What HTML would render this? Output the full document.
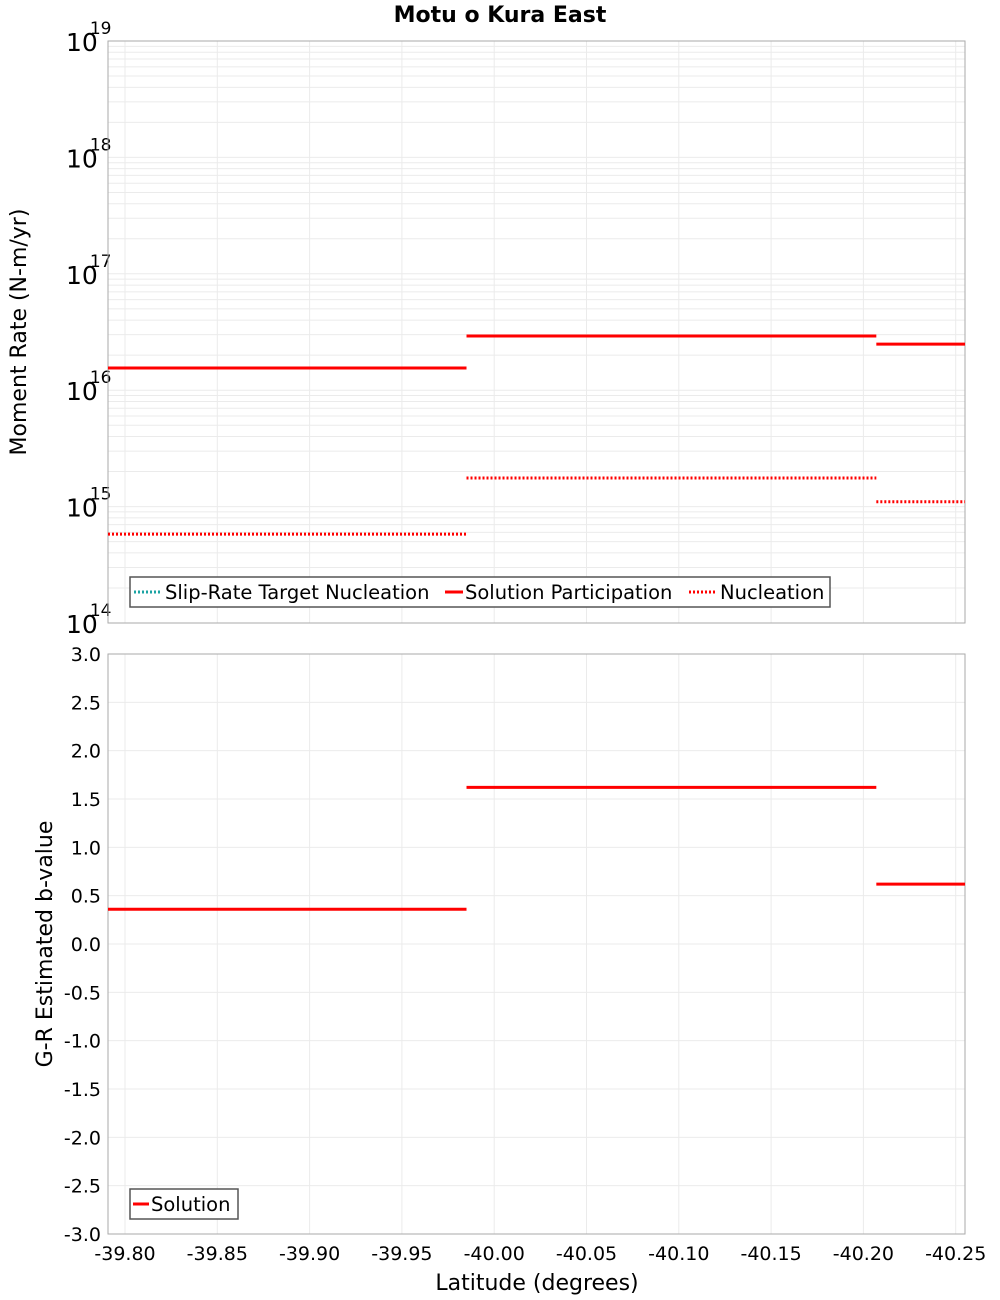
<!DOCTYPE html>
<html><head><meta charset="utf-8"><style>
body{margin:0;background:#fff;}
svg{display:block;font-family:"DejaVu Sans","Liberation Sans",sans-serif;}
</style></head><body>
<svg id="c" width="1000" height="1300" xmlns="http://www.w3.org/2000/svg">
<text x="500" y="22" text-anchor="middle" font-size="22" font-weight="bold">Motu o Kura East</text>
<g id="gtop"></g>
<g id="gbot"></g>
<g>
<rect x="130" y="577" width="700" height="30" fill="#fff" stroke="#555" stroke-width="1.5"/>
<line x1="134" x2="162" y1="592" y2="592" stroke="#1aa3a3" stroke-width="3" stroke-dasharray="2,2"/>
<text x="165" y="599" font-size="19.5">Slip-Rate Target Nucleation</text>
<line x1="445" x2="463" y1="592" y2="592" stroke="#f00" stroke-width="3"/>
<text x="465" y="599" font-size="19.5">Solution Participation</text>
<line x1="689" x2="717" y1="592" y2="592" stroke="#f00" stroke-width="3" stroke-dasharray="2,2"/>
<text x="720" y="599" font-size="19.5">Nucleation</text>
</g>
<g>
<rect x="130" y="1189" width="108" height="30" fill="#fff" stroke="#555" stroke-width="1.5"/>
<line x1="133" x2="149" y1="1204" y2="1204" stroke="#f00" stroke-width="3"/>
<text x="151" y="1211" font-size="19.5">Solution</text>
</g>
<text x="537" y="1290" text-anchor="middle" font-size="22">Latitude (degrees)</text>
<text transform="translate(26,332) rotate(-90)" text-anchor="middle" font-size="22">Moment Rate (N-m/yr)</text>
<text transform="translate(52,944) rotate(-90)" text-anchor="middle" font-size="22">G-R Estimated b-value</text>
</svg>
<script>
const segStarts = [-39.79, -39.985, -40.207];
const segEnds = [-39.985, -40.207, -40.26];
const participation = [1.55e16, 2.92e16, 2.49e16];
const nucleation = [5.8e14, 1.76e15, 1.1e15];
const bValues = [0.36, 1.62, 0.62];
const xTicks = [-39.80,-39.85,-39.90,-39.95,-40.00,-40.05,-40.10,-40.15,-40.20,-40.25];
const logExps = [14,15,16,17,18,19];
const bTicks = [-3.0,-2.5,-2.0,-1.5,-1.0,-0.5,0.0,0.5,1.0,1.5,2.0,2.5,3.0];

const NS="http://www.w3.org/2000/svg";
const L=108,R=965,T1=41,B1=623,T2=654,B2=1234;
const X=v=>125+(-39.80-v)/0.05*92.3;
const xc=v=>Math.max(L,Math.min(R,X(v)));
const Y1=v=>B1-(Math.log10(v)-14)*(B1-T1)/5;
const Y2=v=>T2+(3-v)*(B2-T2)/6;
function mk(p,tag,a,txt){const e=document.createElementNS(NS,tag);for(const k in a)e.setAttribute(k,a[k]);if(txt!==undefined)e.textContent=txt;p.appendChild(e);return e;}
const gTop=document.getElementById('gtop'),gBot=document.getElementById('gbot');

for(const t of xTicks){
  const g1=mk(gTop,'line',{x1:X(t),x2:X(t),y1:T1,y2:B1,stroke:'#ebebeb'});
  
  
  const g2=mk(gBot,'line',{x1:X(t),x2:X(t),y1:T2,y2:B2,stroke:'#ebebeb'});
  
  
  const tl=mk(gBot,'text',{x:X(t),y:1260,'text-anchor':'middle','font-size':19},t.toFixed(2));
  
  
}
for(let e=14;e<19;e++)for(let m=1;m<10;m++){
  const y=Y1(m*Math.pow(10,e));
  const gl=mk(gTop,'line',{x1:L,x2:R,y1:y,y2:y,stroke:'#ebebeb'});
  
  
}
for(const e of logExps){
  const y=Y1(Math.pow(10,e));
  const t=mk(gTop,'text',{x:66,y:y+10,'text-anchor':'start','font-size':25});
  
  
  t.innerHTML='10<tspan dx="-8" dy="-17" font-size="17">'+e+'</tspan>';
}
for(const b of bTicks){
  const y=Y2(b);
  const gl=mk(gBot,'line',{x1:L,x2:R,y1:y,y2:y,stroke:'#ebebeb'});
  
  
  const t=mk(gBot,'text',{x:101,y:y+7,'text-anchor':'end','font-size':19},b.toFixed(1));
  
  
}
const f1=mk(gTop,'rect',{x:L,y:T1,width:R-L,height:B1-T1,fill:'none',stroke:'#aaa'});


const f2=mk(gBot,'rect',{x:L,y:T2,width:R-L,height:B2-T2,fill:'none',stroke:'#aaa'});



for(let i=0;i<segStarts.length;i++){
  const x1=xc(segStarts[i]),x2=xc(segEnds[i]);
  const p=mk(gTop,'line',{x1:x1,x2:x2,y1:Y1(participation[i]),y2:Y1(participation[i]),stroke:'#f00','stroke-width':3});
  
  
  const n=mk(gTop,'line',{x1:x1,x2:x2,y1:Y1(nucleation[i]),y2:Y1(nucleation[i]),stroke:'#f00','stroke-width':3,'stroke-dasharray':'2,2'});
  
  
  const b=mk(gBot,'line',{x1:x1,x2:x2,y1:Y2(bValues[i]),y2:Y2(bValues[i]),stroke:'#f00','stroke-width':3});
  
  
}
</script>
</body></html>
